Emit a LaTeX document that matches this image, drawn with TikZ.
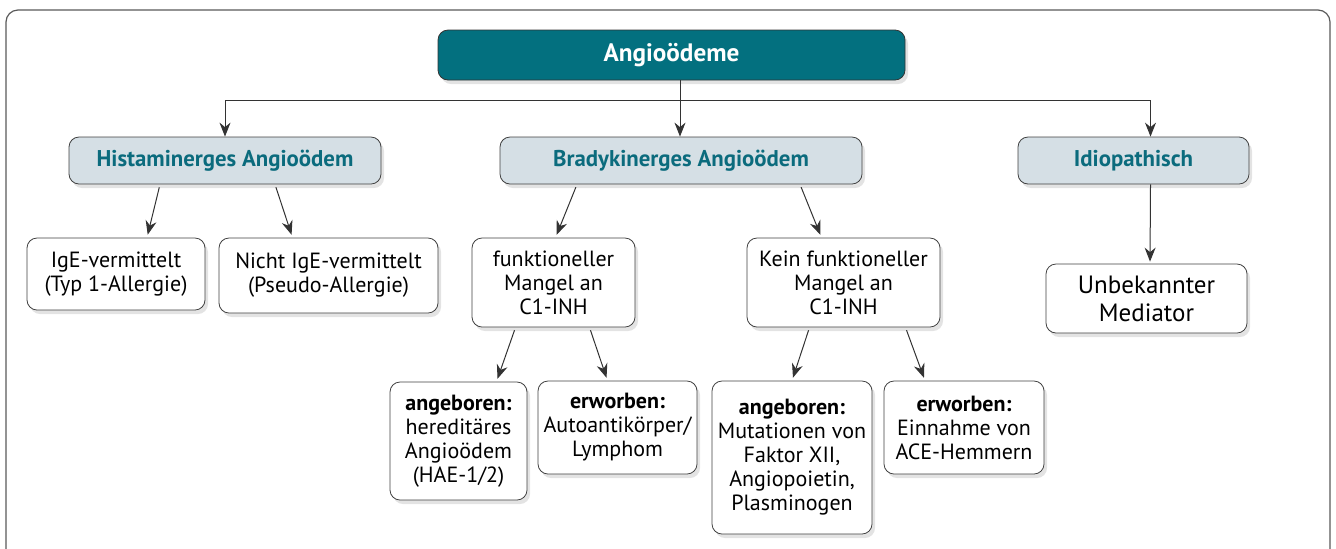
\documentclass[tikz,border=0pt]{standalone}
\usepackage{fontspec}
\setmainfont{PT Sans}
\usepackage{xcolor}
\usepackage{tikz}
\usetikzlibrary{arrows.meta,shadows}

\definecolor{aoteal}{HTML}{03707F}
\definecolor{aolight}{HTML}{D5DFE5}
\definecolor{aotext}{HTML}{0B6B7D}

\tikzset{
  box/.style={draw=black!75, rounded corners=5pt, fill=white, align=center,
    inner sep=1pt, font=\fontsize{11}{12}\selectfont,
    drop shadow={opacity=0.22, shadow xshift=1.5pt, shadow yshift=-2pt}},
  headbox/.style={box, fill=aolight, text=aotext, font=\fontsize{11.4}{12}\selectfont\bfseries},
  arr/.style={-{Stealth[length=7pt,width=5.5pt]}, black!80, line width=0.5pt}
}

\begin{document}
\begin{tikzpicture}[x=0.5pt, y=-0.5pt]
    \useasboundingbox (0,0) rectangle (1336,548);

    % Frame
    \draw[black!65, line width=0.6pt, rounded corners=6pt] (6,580) -- (6,10) -- (1330,10) -- (1330,580);

    % Top
    \node[box, draw=black!80, fill=aoteal, text=white, font=\fontsize{12.6}{13}\selectfont\bfseries,
      minimum width=233.5pt, minimum height=25pt] (top) at (671.5,55) {Angioödeme};

    % Level 1
    \node[headbox, minimum width=156pt, minimum height=23.5pt] (hist) at (225,160.5) {Histaminerges Angioödem};
    \node[headbox, minimum width=181pt, minimum height=23.5pt] (bra) at (681,160.5) {Bradykinerges Angioödem};
    \node[headbox, minimum width=115.5pt, minimum height=23.5pt] (idio) at (1133.5,160.5) {Idiopathisch};

    % Level 2
    \node[box, minimum width=89pt, minimum height=36pt] (ige) at (116,274) {IgE-vermittelt\\(Typ 1-Allergie)};
    \node[box, minimum width=109.5pt, minimum height=37.5pt] (nige) at (328.5,275.5) {Nicht IgE-vermittelt\\(Pseudo-Allergie)};
    \node[box, minimum width=81.5pt, minimum height=44.5pt] (fun) at (553.5,282.5) {funktioneller\\Mangel an\\C1-INH};
    \node[box, minimum width=96.5pt, minimum height=44.5pt] (kein) at (843.5,282.5) {Kein funktioneller\\Mangel an\\C1-INH};
    \node[box, font=\fontsize{12.5}{14}\selectfont, minimum width=100.5pt, minimum height=34.5pt] (unb) at (1146.5,298.5) {Unbekannter\\Mediator};

    % Level 3
    \node[box, minimum width=68.5pt, minimum height=59pt] (ang1) at (458.5,441) {\textbf{angeboren:}\\hereditäres\\Angioödem\\(HAE-1/2)};
    \node[box, minimum width=79.5pt, minimum height=46.5pt] (erw1) at (617.5,427.5) {\textbf{erworben:}\\Autoantikörper/\\Lymphom};
    \node[box, minimum width=80pt, minimum height=76.5pt] (ang2) at (792,457.5) {\textbf{angeboren:}\\Mutationen von\\Faktor XII,\\Angiopoietin,\\Plasminogen};
    \node[box, minimum width=80pt, minimum height=46.5pt] (erw2) at (964,427.5) {\textbf{erworben:}\\Einnahme von\\ACE-Hemmern};

    % Connectors from top
    \coordinate (split) at (680,100);
    \draw[arr] (top.south -| split) -- (split) -- (split |- bra.north);
    \draw[arr] (split) -| (hist.north);
    \draw[arr] (split) -| ([xshift=8.5pt]idio.north);

    % Histaminerg
    \draw[arr, shorten <=1.5pt, shorten >=1.5pt] ([xshift=-32.5pt]hist.south) -- ([xshift=15.5pt]ige.north);
    \draw[arr, shorten <=1.5pt, shorten >=1.5pt] ([xshift=25pt]hist.south) -- ([xshift=-18pt]nige.north);

    % Bradykinerg
    \draw[arr, shorten <=1.5pt, shorten >=1.5pt] ([xshift=-52pt]bra.south) -- ([xshift=1pt]fun.north);
    \draw[arr, shorten <=1.5pt, shorten >=1.5pt] ([xshift=59.5pt]bra.south) -- ([xshift=-11pt]kein.north);
    \draw[arr, shorten <=1.5pt, shorten >=1.5pt] ([xshift=-19pt]fun.south) -- ([xshift=19pt]ang1.north);
    \draw[arr, shorten <=1.5pt, shorten >=1.5pt] ([xshift=18pt]fun.south) -- ([xshift=-5pt]erw1.north);
    \draw[arr, shorten <=1.5pt, shorten >=1.5pt] ([xshift=-17pt]kein.south) -- (ang2.north);
    \draw[arr, shorten <=1.5pt, shorten >=1.5pt] ([xshift=31pt]kein.south) -- ([xshift=-19.5pt]erw2.north);

    % Idiopathisch
    \draw[arr, shorten >=1pt] ([xshift=8.5pt]idio.south) -- ([xshift=1.75pt]unb.north);
\end{tikzpicture}
\end{document}
